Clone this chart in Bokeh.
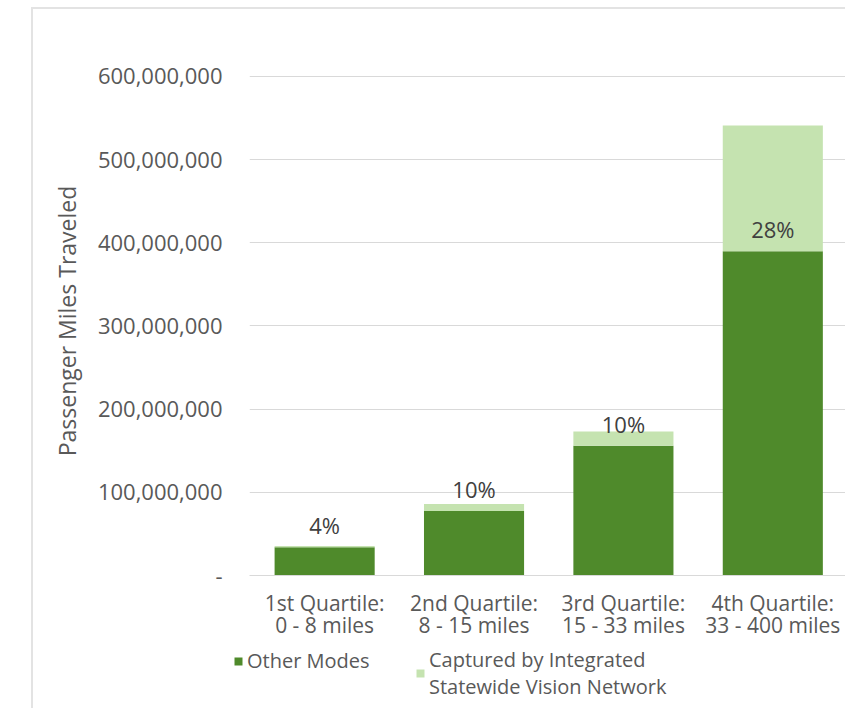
from bokeh.plotting import figure
from bokeh.models import (ColumnDataSource, Range1d, FixedTicker, NumeralTickFormatter,
                          Legend, LegendItem, Spacer)
from bokeh.layouts import row, column
from bokeh.core.properties import value
from bokeh.embed import file_html
from bokeh.resources import INLINE

# ---- data ----
categories = ["1st Quartile:\n0 - 8 miles", "2nd Quartile:\n8 - 15 miles",
              "3rd Quartile:\n15 - 33 miles", "4th Quartile:\n33 - 400 miles"]
other_modes = [34_000_000, 77_500_000, 156_000_000, 390_000_000]
captured = [1_400_000, 8_500_000, 17_000_000, 151_000_000]
pct_labels = ["4%", "10%", "10%", "28%"]
series_names = ["Other Modes", "Captured by Integrated\nStatewide Vision Network"]
y_ticks = [0, 100_000_000, 200_000_000, 300_000_000, 400_000_000, 500_000_000, 600_000_000]

DARK = "#4f8a2b"
LIGHT = "#c5e3b0"
TXT = "#595959"
FONT = "Open Sans"
BORDER = {"border-left": "2px solid #e3e3e3"}

xs = list(range(len(categories)))
src = ColumnDataSource(dict(x=xs, other=other_modes, captured=captured,
                            pct=pct_labels))

p = figure(frame_width=596, frame_height=507, output_backend="svg", toolbar_location=None,
           x_range=Range1d(-0.503, 3.50), y_range=Range1d(0, 612_000_000),
           min_border_left=216, min_border_right=0, min_border_top=57,
           min_border_bottom=67, outline_line_color=None,
           background_fill_color="white", border_fill_color="white")
p.styles = {"border-left": "2px solid #e3e3e3", "border-top": "2px solid #e3e3e3"}

rs = p.vbar_stack(["other", "captured"], x="x", width=0.67, source=src,
                  color=[DARK, LIGHT], line_color=None)

p.text(x="x", y="other", text="pct", source=src, y_offset=-22,
       text_align="center", text_baseline="middle", text_font=value(FONT),
       text_font_size="22px", text_color="#404040")

# axes
p.yaxis.ticker = FixedTicker(ticks=y_ticks)
p.yaxis.formatter = NumeralTickFormatter(format="0,0")
p.yaxis.major_label_overrides = {0: "-"}
p.yaxis.axis_line_color = None
p.yaxis.major_tick_line_color = None
p.yaxis.major_tick_out = 0
p.yaxis.major_tick_in = 0
p.yaxis.minor_tick_line_color = None
p.yaxis.major_label_standoff = 27
p.yaxis.major_label_text_font = FONT
p.yaxis.major_label_text_font_size = "22px"
p.yaxis.major_label_text_color = TXT
p.yaxis.axis_label = "Passenger Miles Traveled"
p.yaxis.axis_label_text_font = FONT
p.yaxis.axis_label_text_font_size = "23px"
p.yaxis.axis_label_text_font_style = "normal"
p.yaxis.axis_label_text_color = TXT
p.yaxis.axis_label_standoff = 12

p.xaxis.ticker = FixedTicker(ticks=xs)
p.xaxis.major_label_overrides = {i: c for i, c in enumerate(categories)}
p.xaxis.axis_line_color = "#d9d9d9"
p.xaxis.major_tick_line_color = None
p.xaxis.major_tick_out = 0
p.xaxis.major_tick_in = 0
p.xaxis.minor_tick_line_color = None
p.xaxis.major_label_standoff = 13
p.xaxis.major_label_text_font = FONT
p.xaxis.major_label_text_font_size = "21px"
p.xaxis.major_label_text_line_height = 0.8
p.xaxis.major_label_text_color = TXT

p.xgrid.grid_line_color = None
p.ygrid.grid_line_color = "#d9d9d9"
p.ygrid.grid_line_width = 1

# legend strip below the chart (its bars lie outside its visible range; only the legend shows)
p2 = figure(frame_width=812, frame_height=68, output_backend="svg", toolbar_location=None,
            x_axis_type=None, y_axis_type=None, min_border=0,
            x_range=Range1d(-10, -9), y_range=Range1d(-2e9, -1e9),
            outline_line_color=None, background_fill_color="white",
            border_fill_color="white")
p2.styles = BORDER
lr = p2.vbar_stack(["other", "captured"], x="x", width=0.67, source=src,
                   color=[DARK, LIGHT], line_color=None)

leg_kw = dict(orientation="horizontal", glyph_width=10, glyph_height=10,
              label_standoff=4, label_text_font=FONT, label_text_font_size="20px",
              label_text_line_height=0.8, label_text_color=TXT,
              border_line_color=None, background_fill_alpha=0, padding=0, margin=0)
leg_a = Legend(items=[LegendItem(label=series_names[0], renderers=[lr[0]])],
               location=(200, 34), **leg_kw)
leg_b = Legend(items=[LegendItem(label=series_names[1], renderers=[lr[1]])],
               location=(382, 8), **leg_kw)
p2.add_layout(leg_a, "center")
p2.add_layout(leg_b, "center")

layout = column(Spacer(height=7, width=10),
                row(Spacer(width=31, height=650), column(p, p2, spacing=0)), spacing=0)
open("out.html", "w").write(file_html(layout, INLINE))
